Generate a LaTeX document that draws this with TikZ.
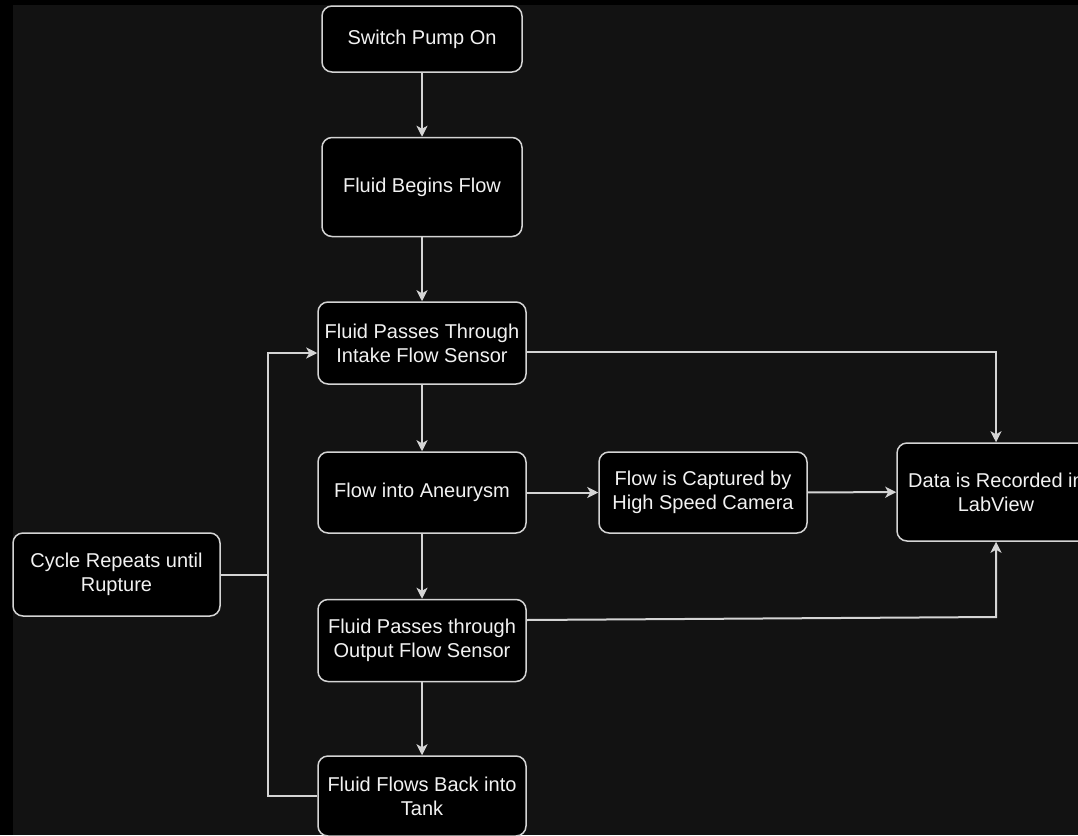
\documentclass[tikz,border=0pt]{standalone}
\usepackage{fontspec}
\setmainfont{Liberation Sans}
\usetikzlibrary{arrows.meta}
\definecolor{bgdark}{HTML}{121212}
\definecolor{edgecol}{HTML}{D4D4D4}
\definecolor{txtcol}{HTML}{F2F2F2}
\begin{document}
\begin{tikzpicture}[x=1pt,y=-1pt,
  box/.style={draw=edgecol, line width=1.5pt, fill=black, rounded corners=10pt,
    text=txtcol, align=center, inner sep=0pt,
    font=\fontsize{20}{24}\selectfont},
  line/.style={draw=edgecol, line width=2pt},
  conn/.style={line, -{Stealth[length=11pt,width=11pt,inset=3pt]}}]
\useasboundingbox (0,0) rectangle (1078,835);
\fill[black] (0,0) rectangle (1078,835);
\fill[bgdark] (13,5) rectangle (1078,835);
\clip (0,0) rectangle (1078,835);
% nodes
\node[box, minimum width=200pt, minimum height=66pt] (sw) at (422,39) {Switch Pump On};
\node[box, minimum width=200pt, minimum height=99pt] (fb) at (422,187) {Fluid Begins Flow};
\node[box, minimum width=208pt, minimum height=82pt] (intake) at (422,343) {Fluid Passes Through\\Intake Flow Sensor};
\node[box, minimum width=208pt, minimum height=81pt] (aneu) at (422,492.5) {Flow into Aneurysm};
\node[box, minimum width=208pt, minimum height=82pt] (out) at (422,640.5) {Fluid Passes through\\Output Flow Sensor};
\node[box, minimum width=208pt, minimum height=80pt] (tank) at (422,796) {Fluid Flows Back into\\Tank};
\node[box, minimum width=208pt, minimum height=81pt] (cam) at (703,492.5) {Flow is Captured by\\High Speed Camera};
\node[box, minimum width=198pt, minimum height=98pt] (data) at (996,492) {Data is Recorded in\\LabView};
\node[box, minimum width=207pt, minimum height=83pt] (cycle) at (116.5,574.5) {Cycle Repeats until\\Rupture};
% helper coordinates
\coordinate (bt) at (268,353);
\coordinate (oc) at (996,617);
% connectors
\draw[conn] (sw) -- (fb);
\draw[conn] (fb) -- (intake);
\draw[conn] (intake) -- (aneu);
\draw[conn] (aneu) -- (out);
\draw[conn] (out) -- (tank);
\draw[conn] (aneu) -- (cam);
\draw[conn] (cam) -- (data);
\draw[conn] ([yshift=-9pt]intake.east) -| (data.north);
\draw[conn] ([yshift=20.5pt]out.east) -- (oc) -- (data.south);
\draw[conn] (tank.west) -| (bt) -- ([yshift=-10pt]intake.west);
\draw[line] (cycle.east) -- (cycle.east -| bt);
\end{tikzpicture}
\end{document}
